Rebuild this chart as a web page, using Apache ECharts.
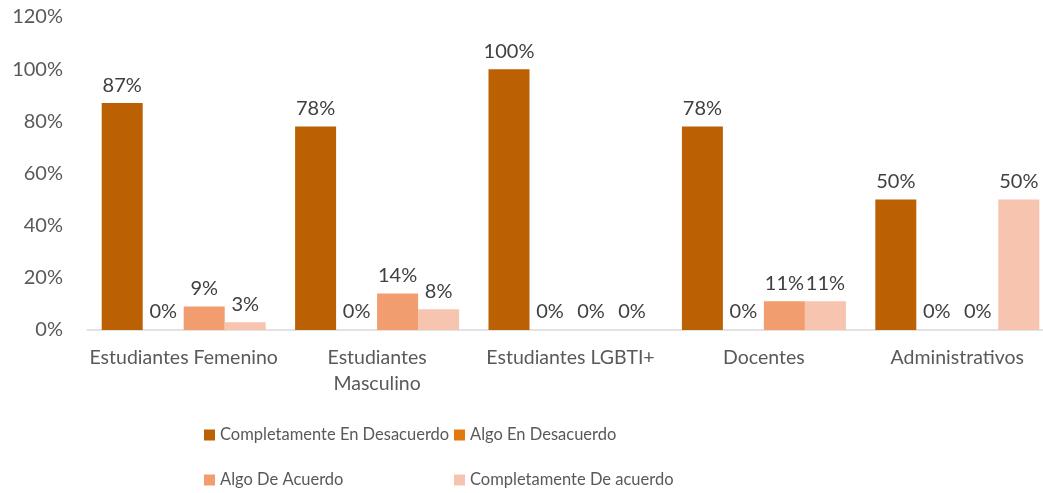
<!DOCTYPE html>
<html>
<head>
<meta charset="utf-8">
<script src="https://cdn.jsdelivr.net/npm/echarts@6/dist/echarts.min.js"></script>
<style>
  html, body { margin: 0; padding: 0; background: #fff; }
  #main { width: 1043px; height: 493px; }
</style>
</head>
<body>
<div id="main"></div>
<script>
var categories = ['Estudiantes Femenino', 'Estudiantes Masculino', 'Estudiantes LGBTI+', 'Docentes', 'Administrativos'];
var seriesNames = ['Completamente En Desacuerdo', 'Algo En Desacuerdo', 'Algo De Acuerdo', 'Completamente De acuerdo'];
var completamenteDesacuerdo = [87, 78, 100, 78, 50];
var algoDesacuerdo = [0, 0, 0, 0, 0];
var algoAcuerdo = [9, 14, 0, 11, 0];
var completamenteAcuerdo = [3, 8, 0, 11, 50];
var yTicks = [0, 20, 40, 60, 80, 100, 120];

var colors = ['#BC6103', '#E2780E', '#F29D6F', '#F6C4AF'];
var font = 'Lato, "Open Sans", sans-serif';

var myChart = echarts.init(document.getElementById('main'));

function makeSeries(name, data, color) {
    return {
        name: name,
        type: 'bar',
        data: data,
        barWidth: 41,
        barGap: '0%',
        itemStyle: { color: color },
        label: {
            show: true,
            position: 'top',
            distance: 8,
            formatter: '{c}%',
            color: '#404040',
            fontFamily: font,
            fontSize: 20
        }
    };
}

// one legend per slot so the two columns line up like the original
function makeLegend(name, left, top) {
    return {
        data: [name],
        left: left,
        top: top,
        padding: 0,
        itemWidth: 11,
        itemHeight: 11,
        itemGap: 0,
        icon: 'rect',
        textStyle: { color: '#595959', fontFamily: font, fontSize: 16.5, lineHeight: 22 }
    };
}

myChart.setOption({
    backgroundColor: '#fff',
    animation: false,
    color: colors,
    grid: {
        left: 87,
        top: 17,
        width: 967,
        height: 313,
        outerBoundsMode: 'none'
    },
    legend: [
        makeLegend(seriesNames[0], 204, 424),
        makeLegend(seriesNames[1], 454, 424),
        makeLegend(seriesNames[2], 204, 469),
        makeLegend(seriesNames[3], 454, 469)
    ],
    xAxis: {
        type: 'category',
        data: categories,
        axisTick: { show: false },
        axisLine: { lineStyle: { color: '#d9d9d9', width: 1.5 } },
        axisLabel: {
            color: '#595959',
            fontFamily: font,
            fontSize: 19.5,
            margin: 15,
            lineHeight: 26,
            interval: 0,
            // the original wraps only the longest label onto two lines
            formatter: function (v) {
                return v.length > 20 ? v.replace(' ', '\n') : v;
            }
        }
    },
    yAxis: {
        type: 'value',
        min: yTicks[0],
        max: yTicks[yTicks.length - 1],
        interval: 20,
        splitLine: { show: false },
        axisLine: { show: false },
        axisTick: { show: false },
        axisLabel: {
            color: '#595959',
            fontFamily: font,
            fontSize: 20,
            margin: 24,
            formatter: '{value}%'
        }
    },
    series: [
        makeSeries(seriesNames[0], completamenteDesacuerdo, colors[0]),
        makeSeries(seriesNames[1], algoDesacuerdo, colors[1]),
        makeSeries(seriesNames[2], algoAcuerdo, colors[2]),
        makeSeries(seriesNames[3], completamenteAcuerdo, colors[3])
    ]
});

window.addEventListener('resize', function () {
    myChart.resize();
});
</script>
</body>
</html>
